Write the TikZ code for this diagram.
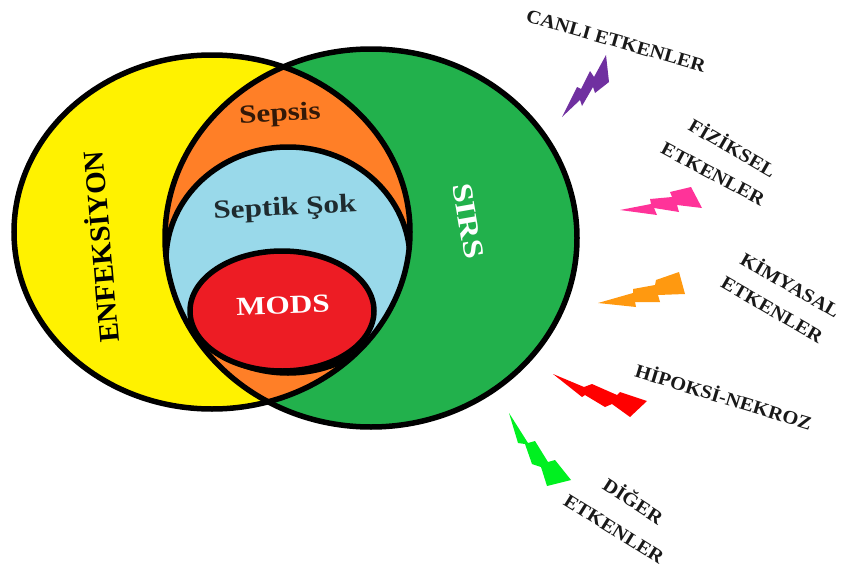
\documentclass[tikz,border=0pt]{standalone}
\usepackage{fontspec}
\setmainfont{Liberation Serif}
\usepackage{xcolor}
\definecolor{sari}{HTML}{FFF200}
\definecolor{yesil}{HTML}{22B14C}
\definecolor{turuncu}{HTML}{FF7F27}
\definecolor{mavi}{HTML}{99D9EA}
\definecolor{kirmizi}{HTML}{ED1C24}
\definecolor{mor}{HTML}{7030A0}
\definecolor{pembe}{HTML}{FF3399}
\definecolor{portakal}{HTML}{FF9910}
\definecolor{parlak}{HTML}{00F020}
\begin{document}
\begin{tikzpicture}[x=1pt,y=-1pt,
  outline/.style={draw=black,line width=5.5pt},
  etken/.style={font=\bfseries\fontsize{19}{21}\selectfont,text=black!90,inner sep=0pt,xscale=1.08},
  inside/.style={font=\bfseries\fontsize{26}{28}\selectfont,inner sep=0pt,xscale=1.2}]
\useasboundingbox (0,0) rectangle (846,570);
\def\enf{(212,232) ellipse [x radius=198,y radius=177]}
\def\sirs{(371,238) ellipse [x radius=206,y radius=189]}
\def\sok{(288,260) ellipse [x radius=122,y radius=113]}
% venn
\fill[sari] \enf;
\fill[yesil] \sirs;
\begin{scope}
  \clip \enf;
  \fill[turuncu] \sirs;
  \clip \sirs;
  \fill[mavi] \sok;
  \draw[outline] \sok;
\end{scope}
\draw[outline] \enf;
\draw[outline] \sirs;
\draw[outline,fill=kirmizi] (282,311) ellipse [x radius=92,y radius=60];
% labels
\node[rotate=95,inside,xscale=0.93,yscale=1.1] (enfeksiyon) at (99,247) {ENFEKSİYON};
\node[rotate=-80,inside,xscale=1.1,yscale=1.1,text=white] (sirs) at (468,221) {SIRS};
\node[rotate=3,inside,text=black!80!turuncu] (sepsis) at (280,115) {Sepsis};
\node[rotate=3,inside,text=black!80!mavi] (septik) at (285,209) {Septik Şok};
\node[rotate=2,inside,text=white] (mods) at (283,305) {MODS};
% bolts
\fill[mor] (562,117) -- (577,87) -- (581,89) -- (590,71) -- (594,77) -- (606,55) -- (609,82) -- (595,93) -- (593,87) -- (582,106) -- (580,100) -- cycle;
\fill[pembe] (620,210) -- (651,204) -- (650,199) -- (672,197) -- (670,192) -- (691,187) -- (702,208) -- (677,205) -- (679,212) -- (654,208) -- (657,215) -- cycle;
\fill[portakal] (598,303) -- (633,293) -- (633,289) -- (655,285) -- (656,280) -- (679,272) -- (685,294) -- (658,295) -- (660,302) -- (635,302) -- (636,307) -- cycle;
\fill[red] (553,374) -- (584,387) -- (592,384) -- (617,395) -- (620,392) -- (647,401) -- (630,417) -- (612,404) -- (605,407) -- (585,395) -- (582,397) -- cycle;
\fill[parlak] (509,413) -- (528,443) -- (535,441) -- (548,462) -- (555,460) -- (571,480) -- (547,486) -- (541,467) -- (532,464) -- (525,444) -- (518,443) -- cycle;
% etkenler
\node[rotate=-16,etken] (canli) at (616,41) {CANLI ETKENLER};
\node[rotate=-30,etken] (fiziksel) at (733,147) {FİZİKSEL};
\node[rotate=-28,etken] (etken1) at (713,174) {ETKENLER};
\node[rotate=-30,etken] (kimyasal) at (791,284) {KİMYASAL};
\node[rotate=-30,etken] (etken2) at (772,310) {ETKENLER};
\node[rotate=-17,etken] (hipoksi) at (724,396) {HİPOKSİ-NEKROZ};
\node[rotate=-33,etken] (diger) at (634,500) {DİĞER};
\node[rotate=-32,etken] (etken3) at (614,529) {ETKENLER};
\end{tikzpicture}
\end{document}
